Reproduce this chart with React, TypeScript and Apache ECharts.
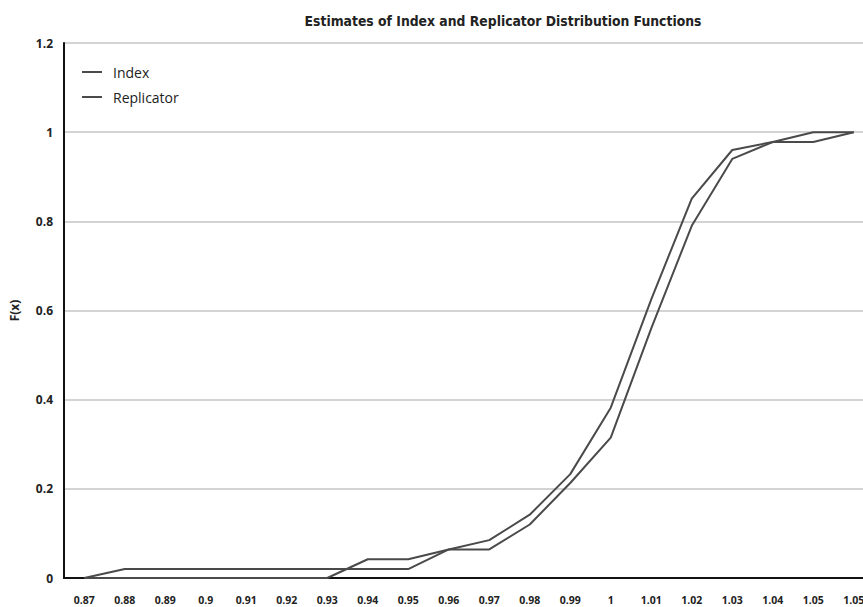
import React, { useEffect, useRef } from "react";
import * as echarts from "echarts";

const categories = [
  "0.87", "0.88", "0.89", "0.9", "0.91", "0.92", "0.93", "0.94", "0.95", "0.96",
  "0.97", "0.98", "0.99", "1", "1.01", "1.02", "1.03", "1.04", "1.05", "1.05",
];

const indexValues = [
  0, 0.02, 0.02, 0.02, 0.02, 0.02, 0.02, 0.02, 0.02, 0.064,
  0.085, 0.142, 0.233, 0.382, 0.625, 0.851, 0.96, 0.978, 1.0, 1.0,
];

const replicatorValues = [
  0, 0, 0, 0, 0, 0, 0, 0.042, 0.042, 0.064,
  0.064, 0.12, 0.213, 0.315, 0.56, 0.79, 0.94, 0.978, 0.978, 1.0,
];

const yTicks = [0, 0.2, 0.4, 0.6, 0.8, 1, 1.2];

const titleText = "Estimates of Index and Replicator Distribution Functions";
const yAxisName = "F(x)";

export default function App() {
  const ref = useRef<HTMLDivElement>(null);

  useEffect(() => {
    if (!ref.current) return;
    const chart = echarts.init(ref.current, undefined, { renderer: "svg" });
    const lineColor = "#4a4a4a";
    const labelFont = "'Open Sans', 'Noto Sans', sans-serif";
    chart.setOption({
      animation: false,
      backgroundColor: "#ffffff",
      title: {
        text: titleText,
        left: 498,
        textAlign: "center",
        top: 9,
        textStyle: {
          fontFamily: "'DejaVu Sans Condensed', 'Liberation Sans Narrow', sans-serif",
          fontSize: 13.8,
          fontWeight: "bold",
          color: "#222",
        },
      },
      legend: {
        orient: "vertical",
        left: 77,
        top: 60,
        itemWidth: 20,
        itemHeight: 2,
        itemGap: 11,
        icon: "rect",
        textStyle: {
          fontFamily: labelFont,
          fontSize: 14,
          color: "#222",
          padding: [0, 0, 0, 6],
        },
        data: ["Index", "Replicator"],
      },
      grid: { left: 64, right: 6, top: 43, bottom: 29 },
      xAxis: {
        type: "category",
        data: categories,
        boundaryGap: true,
        axisLine: { lineStyle: { color: "#111", width: 2 } },
        axisTick: { show: false },
        axisLabel: {
          interval: 0,
          margin: 16,
          fontFamily: labelFont,
          fontSize: 10.5,
          fontWeight: "bold",
          color: "#222",
        },
        splitLine: { show: false },
      },
      yAxis: {
        type: "value",
        min: 0,
        max: 1.2,
        interval: 0.2,
        name: yAxisName,
        nameLocation: "middle",
        nameGap: 44,
        nameRotate: 90,
        nameTextStyle: {
          fontFamily: labelFont,
          fontSize: 12,
          fontWeight: "bold",
          color: "#222",
        },
        axisLine: { show: true, lineStyle: { color: "#111", width: 2 } },
        axisTick: { show: false },
        axisLabel: {
          margin: 11,
          fontFamily: labelFont,
          fontSize: 12,
          fontWeight: "bold",
          color: "#222",
          formatter: (v: number) => {
            const t = yTicks.find((x) => Math.abs(x - v) < 1e-6);
            return String(t !== undefined ? t : v);
          },
        },
        splitLine: { show: true, lineStyle: { color: "#c4c4c4", width: 1.5 } },
      },
      series: [
        {
          name: "Index",
          type: "line",
          data: indexValues,
          showSymbol: false,
          symbol: "none",
          lineStyle: { color: lineColor, width: 2 },
          itemStyle: { color: lineColor },
        },
        {
          name: "Replicator",
          type: "line",
          data: replicatorValues,
          showSymbol: false,
          symbol: "none",
          lineStyle: { color: lineColor, width: 2 },
          itemStyle: { color: lineColor },
        },
      ],
    });
    return () => chart.dispose();
  }, []);

  return (
    <div
      style={{
        position: "fixed",
        left: 0,
        top: 0,
        width: 863,
        height: 607,
        overflow: "hidden",
        background: "#fff",
      }}
    >
      <div ref={ref} style={{ width: 880, height: 607 }} />
    </div>
  );
}
